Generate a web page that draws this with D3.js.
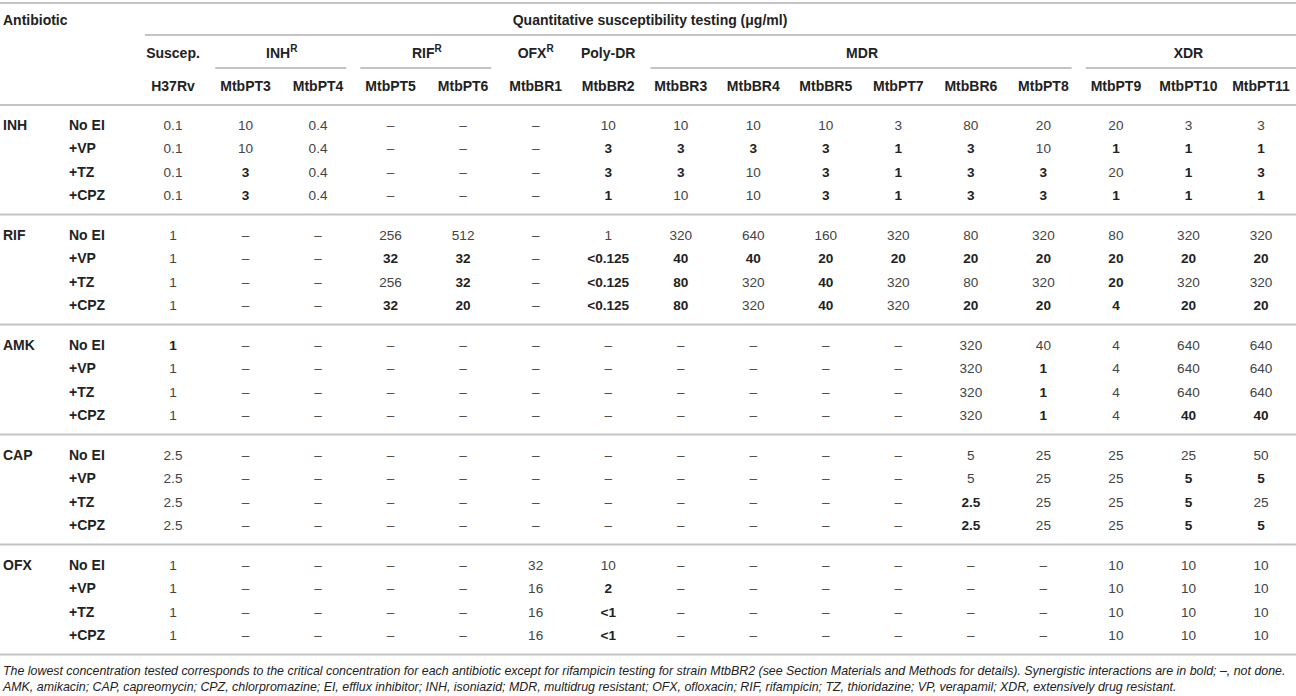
<!DOCTYPE html>
<html>
<head>
<meta charset="utf-8">
<script src="https://cdn.jsdelivr.net/npm/d3@7"></script>
<style>
  body { margin: 0; background: #fff; }
  svg text { font-family: "Liberation Sans", Arial, Helvetica, sans-serif; }
</style>
</head>
<body>
<div id="table"></div>
<script>
// strains (columns) and their resistance groups
const strains = ["H37Rv","MtbPT3","MtbPT4","MtbPT5","MtbPT6","MtbBR1","MtbBR2","MtbBR3","MtbBR4","MtbBR5","MtbPT7","MtbBR6","MtbPT8","MtbPT9","MtbPT10","MtbPT11"];
const groupNames = ["Suscep.","INH","RIF","OFX","Poly-DR","MDR","XDR"];
const groupSup = ["","R","R","R","","",""];
const groupStart = [0,1,3,5,6,7,13];
const groupEnd = [0,2,4,5,6,12,15];

const antibiotics = ["INH","RIF","AMK","CAP","OFX"];
const conditions = ["No EI","+VP","+TZ","+CPZ"];

const D = "\u2013";
const inhValues = [
  ["0.1","10","0.4",D,D,D,"10","10","10","10","3","80","20","20","3","3"],
  ["0.1","10","0.4",D,D,D,"3","3","3","3","1","3","10","1","1","1"],
  ["0.1","3","0.4",D,D,D,"3","3","10","3","1","3","3","20","1","3"],
  ["0.1","3","0.4",D,D,D,"1","10","10","3","1","3","3","1","1","1"]
];
const inhSynergy = [[],[6,7,8,9,10,11,13,14,15],[1,6,7,9,10,11,12,14,15],[1,6,9,10,11,12,13,14,15]];

const rifValues = [
  ["1",D,D,"256","512",D,"1","320","640","160","320","80","320","80","320","320"],
  ["1",D,D,"32","32",D,"<0.125","40","40","20","20","20","20","20","20","20"],
  ["1",D,D,"256","32",D,"<0.125","80","320","40","320","80","320","20","320","320"],
  ["1",D,D,"32","20",D,"<0.125","80","320","40","320","20","20","4","20","20"]
];
const rifSynergy = [[],[3,4,6,7,8,9,10,11,12,13,14,15],[4,6,7,9,13],[3,4,6,7,9,11,12,13,14,15]];

const amkValues = [
  ["1",D,D,D,D,D,D,D,D,D,D,"320","40","4","640","640"],
  ["1",D,D,D,D,D,D,D,D,D,D,"320","1","4","640","640"],
  ["1",D,D,D,D,D,D,D,D,D,D,"320","1","4","640","640"],
  ["1",D,D,D,D,D,D,D,D,D,D,"320","1","4","40","40"]
];
const amkSynergy = [[0],[12],[12],[12,14,15]];

const capValues = [
  ["2.5",D,D,D,D,D,D,D,D,D,D,"5","25","25","25","50"],
  ["2.5",D,D,D,D,D,D,D,D,D,D,"5","25","25","5","5"],
  ["2.5",D,D,D,D,D,D,D,D,D,D,"2.5","25","25","5","25"],
  ["2.5",D,D,D,D,D,D,D,D,D,D,"2.5","25","25","5","5"]
];
const capSynergy = [[],[14,15],[11,14],[11,14,15]];

const ofxValues = [
  ["1",D,D,D,D,"32","10",D,D,D,D,D,D,"10","10","10"],
  ["1",D,D,D,D,"16","2",D,D,D,D,D,D,"10","10","10"],
  ["1",D,D,D,D,"16","<1",D,D,D,D,D,D,"10","10","10"],
  ["1",D,D,D,D,"16","<1",D,D,D,D,D,D,"10","10","10"]
];
const ofxSynergy = [[],[6],[6],[6]];

const allValues = [inhValues, rifValues, amkValues, capValues, ofxValues];
const allSynergy = [inhSynergy, rifSynergy, amkSynergy, capSynergy, ofxSynergy];

const headerTitle = "Quantitative susceptibility testing (\u03bcg/ml)";
const footnotes = [
  "The lowest concentration tested corresponds to the critical concentration for each antibiotic except for rifampicin testing for strain MtbBR2 (see Section Materials and Methods for details). Synergistic interactions are in bold; \u2013, not done.",
  "AMK, amikacin; CAP, capreomycin; CPZ, chlorpromazine; EI, efflux inhibitor; INH, isoniazid; MDR, multidrug resistant; OFX, ofloxacin; RIF, rifampicin; TZ, thioridazine; VP, verapamil; XDR, extensively drug resistant."
];

const width = 1296, height = 696;
const ruleColor = "#c4c4c4";
const textColor = "#222";
const headSize = 14;

const svg = d3.select("#table").append("svg")
  .attr("width", width)
  .attr("height", height);

const x = d3.scalePoint().domain(strains).range([173, 1261]);
const step = x.step();
const yGroup = d3.scalePoint().domain(antibiotics).range([125, 565]);
const yRow = d3.scaleLinear().domain([0, 3]).range([0, 70.5]);

function rule(x1, x2, y) {
  svg.append("line")
    .attr("x1", x1).attr("x2", x2)
    .attr("y1", y).attr("y2", y)
    .attr("stroke", ruleColor)
    .attr("stroke-width", 2);
}

// header
rule(0, width, 3);
svg.append("text").attr("x", 3).attr("y", 20).attr("dy", "0.35em")
  .attr("font-weight", "bold").attr("font-size", headSize).attr("fill", textColor)
  .text("Antibiotic");
svg.append("text").attr("x", 650).attr("y", 20).attr("dy", "0.35em")
  .attr("text-anchor", "middle")
  .attr("font-weight", "bold").attr("font-size", headSize).attr("fill", textColor)
  .text(headerTitle);
rule(145, width, 35);

// group labels + underlines
groupNames.forEach(function(g, i) {
  var cx = (x(strains[groupStart[i]]) + x(strains[groupEnd[i]])) / 2;
  var t = svg.append("text").attr("x", cx).attr("y", 53).attr("dy", "0.35em")
    .attr("text-anchor", "middle")
    .attr("font-weight", "bold").attr("font-size", headSize).attr("fill", textColor);
  t.append("tspan").text(g);
  if (groupSup[i]) {
    t.append("tspan").attr("font-size", 10).attr("dy", "-0.55em").text(groupSup[i]);
  }
  if (groupEnd[i] > groupStart[i]) {
    var x1 = x(strains[groupStart[i]]) - step / 2 + 6;
    var x2 = groupEnd[i] === strains.length - 1 ? width : x(strains[groupEnd[i]]) + step / 2 - 8;
    rule(x1, x2, 68);
  }
});

svg.selectAll(".strain")
  .data(strains).enter()
  .append("text")
  .attr("class", "strain")
  .attr("x", function(d) { return x(d); })
  .attr("y", 86).attr("dy", "0.35em")
  .attr("text-anchor", "middle")
  .attr("font-weight", "bold").attr("font-size", headSize).attr("fill", textColor)
  .text(function(d) { return d; });
rule(0, width, 105);

// body
antibiotics.forEach(function(ab, gi) {
  var g0 = yGroup(ab);
  svg.append("text").attr("x", 3).attr("y", g0).attr("dy", "0.35em")
    .attr("font-weight", "bold").attr("font-size", headSize).attr("fill", textColor)
    .text(ab);
  conditions.forEach(function(c, ri) {
    var yy = g0 + yRow(ri);
    svg.append("text").attr("x", 69).attr("y", yy).attr("dy", "0.35em")
      .attr("font-weight", "bold").attr("font-size", headSize).attr("fill", textColor)
      .text(c);
    var vals = allValues[gi][ri];
    var bold = allSynergy[gi][ri];
    svg.selectAll(".v" + gi + "_" + ri)
      .data(vals).enter()
      .append("text")
      .attr("x", function(d, i) { return x(strains[i]); })
      .attr("y", yy).attr("dy", "0.35em")
      .attr("text-anchor", "middle")
      .attr("font-size", 13.6)
      .attr("font-weight", function(d, i) { return bold.indexOf(i) >= 0 ? "bold" : "normal"; })
      .attr("fill", function(d, i) { return bold.indexOf(i) >= 0 ? textColor : "#444"; })
      .text(function(d) { return d; });
  });
  var bottom = g0 + yRow(3) + 19;
  rule(0, width, bottom);
});

// footnotes
footnotes.forEach(function(f, i) {
  svg.append("text").attr("x", 3).attr("y", 671 + i * 16).attr("dy", "0.35em")
    .attr("font-style", "italic").attr("font-size", 12.4).attr("fill", textColor)
    .text(f);
});
</script>
</body>
</html>
